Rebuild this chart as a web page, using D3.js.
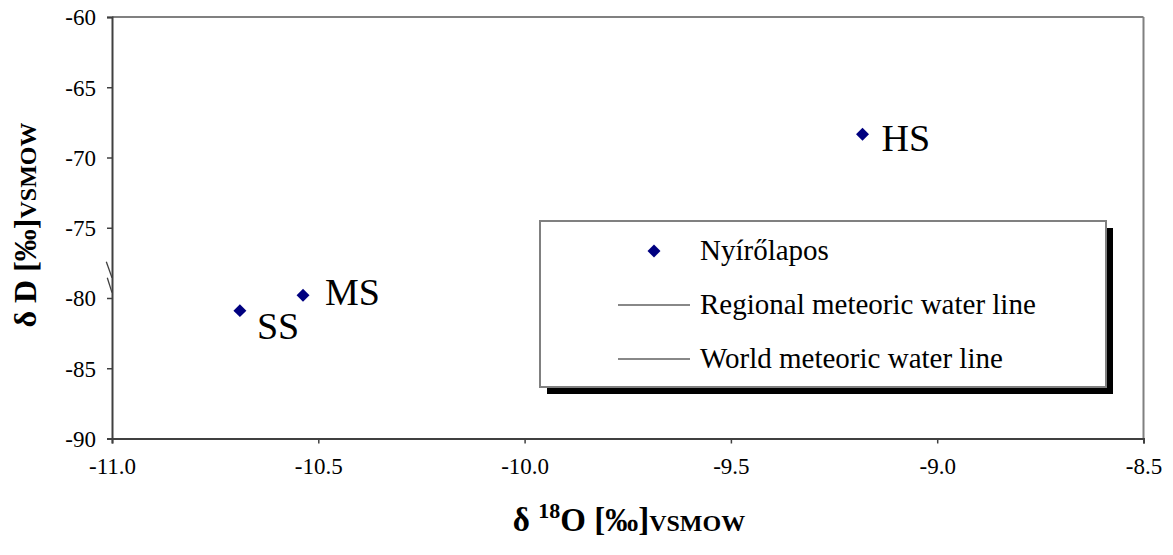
<!DOCTYPE html>
<html>
<head>
<meta charset="utf-8">
<script src="https://cdn.jsdelivr.net/npm/d3@7"></script>
<style>
  html, body { margin: 0; padding: 0; background: #fff; }
  svg { display: block; font-family: "Liberation Serif", "Times New Roman", serif; }
</style>
</head>
<body>
<svg id="chart" width="1173" height="555"></svg>
<script>
// ---- data ----
const sampleNames = ["SS", "MS", "HS"];
const delta18O = [-10.69, -10.537, -9.181];
const deltaD = [-80.9, -79.8, -68.35];

const xTicks = [-11.0, -10.5, -10.0, -9.5, -9.0, -8.5];
const yTicks = [-60, -65, -70, -75, -80, -85, -90];

// meteoric water lines (only short pieces visible at the left edge)
const regionalLineO = [-11.0138, -11.0];
const regionalLineD = [-77.42, -78.56];
const worldLineO = [-11.0114, -11.0];
const worldLineD = [-78.56, -79.62];

const legendLabels = ["Nyírőlapos", "Regional meteoric water line", "World meteoric water line"];

// ---- layout ----
const svg = d3.select("#chart");
const plot = { left: 112, right: 1143.5, top: 17, bottom: 438.5 };

const x = d3.scaleLinear().domain([-11.0, -8.5]).range([plot.left, plot.right]);
const y = d3.scaleLinear().domain([-90, -60]).range([plot.bottom, plot.top]);

const axisColor = "#404040";
const borderColor = "#808080";
const markerColor = "#000080";
const serif = "Liberation Serif, Times New Roman, serif";

// plot border (top & right gray)
svg.append("line").attr("x1", plot.left).attr("x2", plot.right).attr("y1", plot.top).attr("y2", plot.top)
  .attr("stroke", borderColor).attr("stroke-width", 2);
svg.append("line").attr("x1", plot.right).attr("x2", plot.right).attr("y1", plot.top).attr("y2", plot.bottom)
  .attr("stroke", borderColor).attr("stroke-width", 2);

// axes
const yAxis = d3.axisLeft(y).tickValues(yTicks).tickSize(5).tickFormat(d3.format("d"));
const gy = svg.append("g").attr("transform", `translate(${plot.left},0)`).call(yAxis)
  .attr("font-family", serif);
gy.select(".domain").attr("stroke", axisColor).attr("stroke-width", 2);
gy.selectAll(".tick line").attr("stroke", axisColor).attr("stroke-width", 1.5);
gy.selectAll(".tick text").attr("x", -16).attr("dy", "0.34em")
  .attr("font-size", 23).attr("fill", "#000")
  .text(d => d3.format("d")(d).replace("−", "-"));

const xAxis = d3.axisBottom(x).tickValues(xTicks).tickSize(5).tickFormat(d3.format(".1f"));
const gx = svg.append("g").attr("transform", `translate(0,${plot.bottom})`).call(xAxis)
  .attr("font-family", serif);
gx.select(".domain").attr("stroke", axisColor).attr("stroke-width", 2);
gx.selectAll(".tick line").attr("stroke", axisColor).attr("stroke-width", 1.5);
gx.selectAll(".tick text").attr("y", 35).attr("dy", 0)
  .attr("font-size", 23).attr("fill", "#000")
  .text(d => d3.format(".1f")(d).replace("−", "-"));

// meteoric water line pieces
const lineGen = d3.line().x(d => x(d[0])).y(d => y(d[1]));
[[regionalLineO, regionalLineD], [worldLineO, worldLineD]].forEach(([os, ds]) => {
  svg.append("path").attr("d", lineGen(d3.zip(os, ds)))
    .attr("fill", "none").attr("stroke", axisColor).attr("stroke-width", 1.3);
});

// points
const diamond = d3.symbol().type(d3.symbolSquare).size(84);
const pts = d3.range(sampleNames.length).map(i => ({ name: sampleNames[i], o: delta18O[i], d: deltaD[i] }));
svg.selectAll("path.pt").data(pts).join("path").attr("class", "pt")
  .attr("d", diamond)
  .attr("transform", p => `translate(${x(p.o)},${y(p.d)}) rotate(45)`)
  .attr("fill", markerColor);

// point labels
const labelOffset = { SS: [17, 28], MS: [22, 10], HS: [19, 17] };
svg.selectAll("text.lbl").data(pts).join("text").attr("class", "lbl")
  .attr("x", p => x(p.o) + labelOffset[p.name][0])
  .attr("y", p => y(p.d) + labelOffset[p.name][1])
  .attr("font-size", 38).attr("fill", "#000").text(p => p.name);

// legend
const lg = { x: 540, y: 221, w: 566, h: 166, shadow: 7 };
svg.append("rect").attr("x", lg.x + lg.shadow).attr("y", lg.y + lg.shadow).attr("width", lg.w).attr("height", lg.h)
  .attr("fill", "#000");
svg.append("rect").attr("x", lg.x).attr("y", lg.y).attr("width", lg.w).attr("height", lg.h)
  .attr("fill", "#fff").attr("stroke", borderColor).attr("stroke-width", 2);

const legendRowY = [251, 305, 359];
svg.append("path").attr("d", diamond)
  .attr("transform", `translate(654,${legendRowY[0]}) rotate(45)`).attr("fill", markerColor);
[1, 2].forEach(i => {
  svg.append("line").attr("x1", 618).attr("x2", 690).attr("y1", legendRowY[i]).attr("y2", legendRowY[i])
    .attr("stroke", "#606060").attr("stroke-width", 1.3);
});
legendLabels.forEach((t, i) => {
  svg.append("text").attr("x", 700).attr("y", legendRowY[i] + 9)
    .attr("font-size", 29).attr("fill", "#000").text(t);
});

// axis titles
const xt = svg.append("text").attr("x", 629).attr("y", 531).attr("text-anchor", "middle")
  .attr("font-weight", "bold").attr("font-size", 33).attr("fill", "#000");
xt.append("tspan").text("δ ");
xt.append("tspan").attr("font-size", 22).attr("dy", -13).text("18");
xt.append("tspan").attr("dy", 13).text("O [‰]");
xt.append("tspan").attr("font-size", 24).text("VSMOW");

const yt = svg.append("text").attr("transform", "translate(36,225) rotate(-90)").attr("text-anchor", "middle")
  .attr("font-weight", "bold").attr("font-size", 32).attr("fill", "#000");
yt.append("tspan").text("δ D [‰]");
yt.append("tspan").attr("font-size", 24).text("VSMOW");
</script>
</body>
</html>
